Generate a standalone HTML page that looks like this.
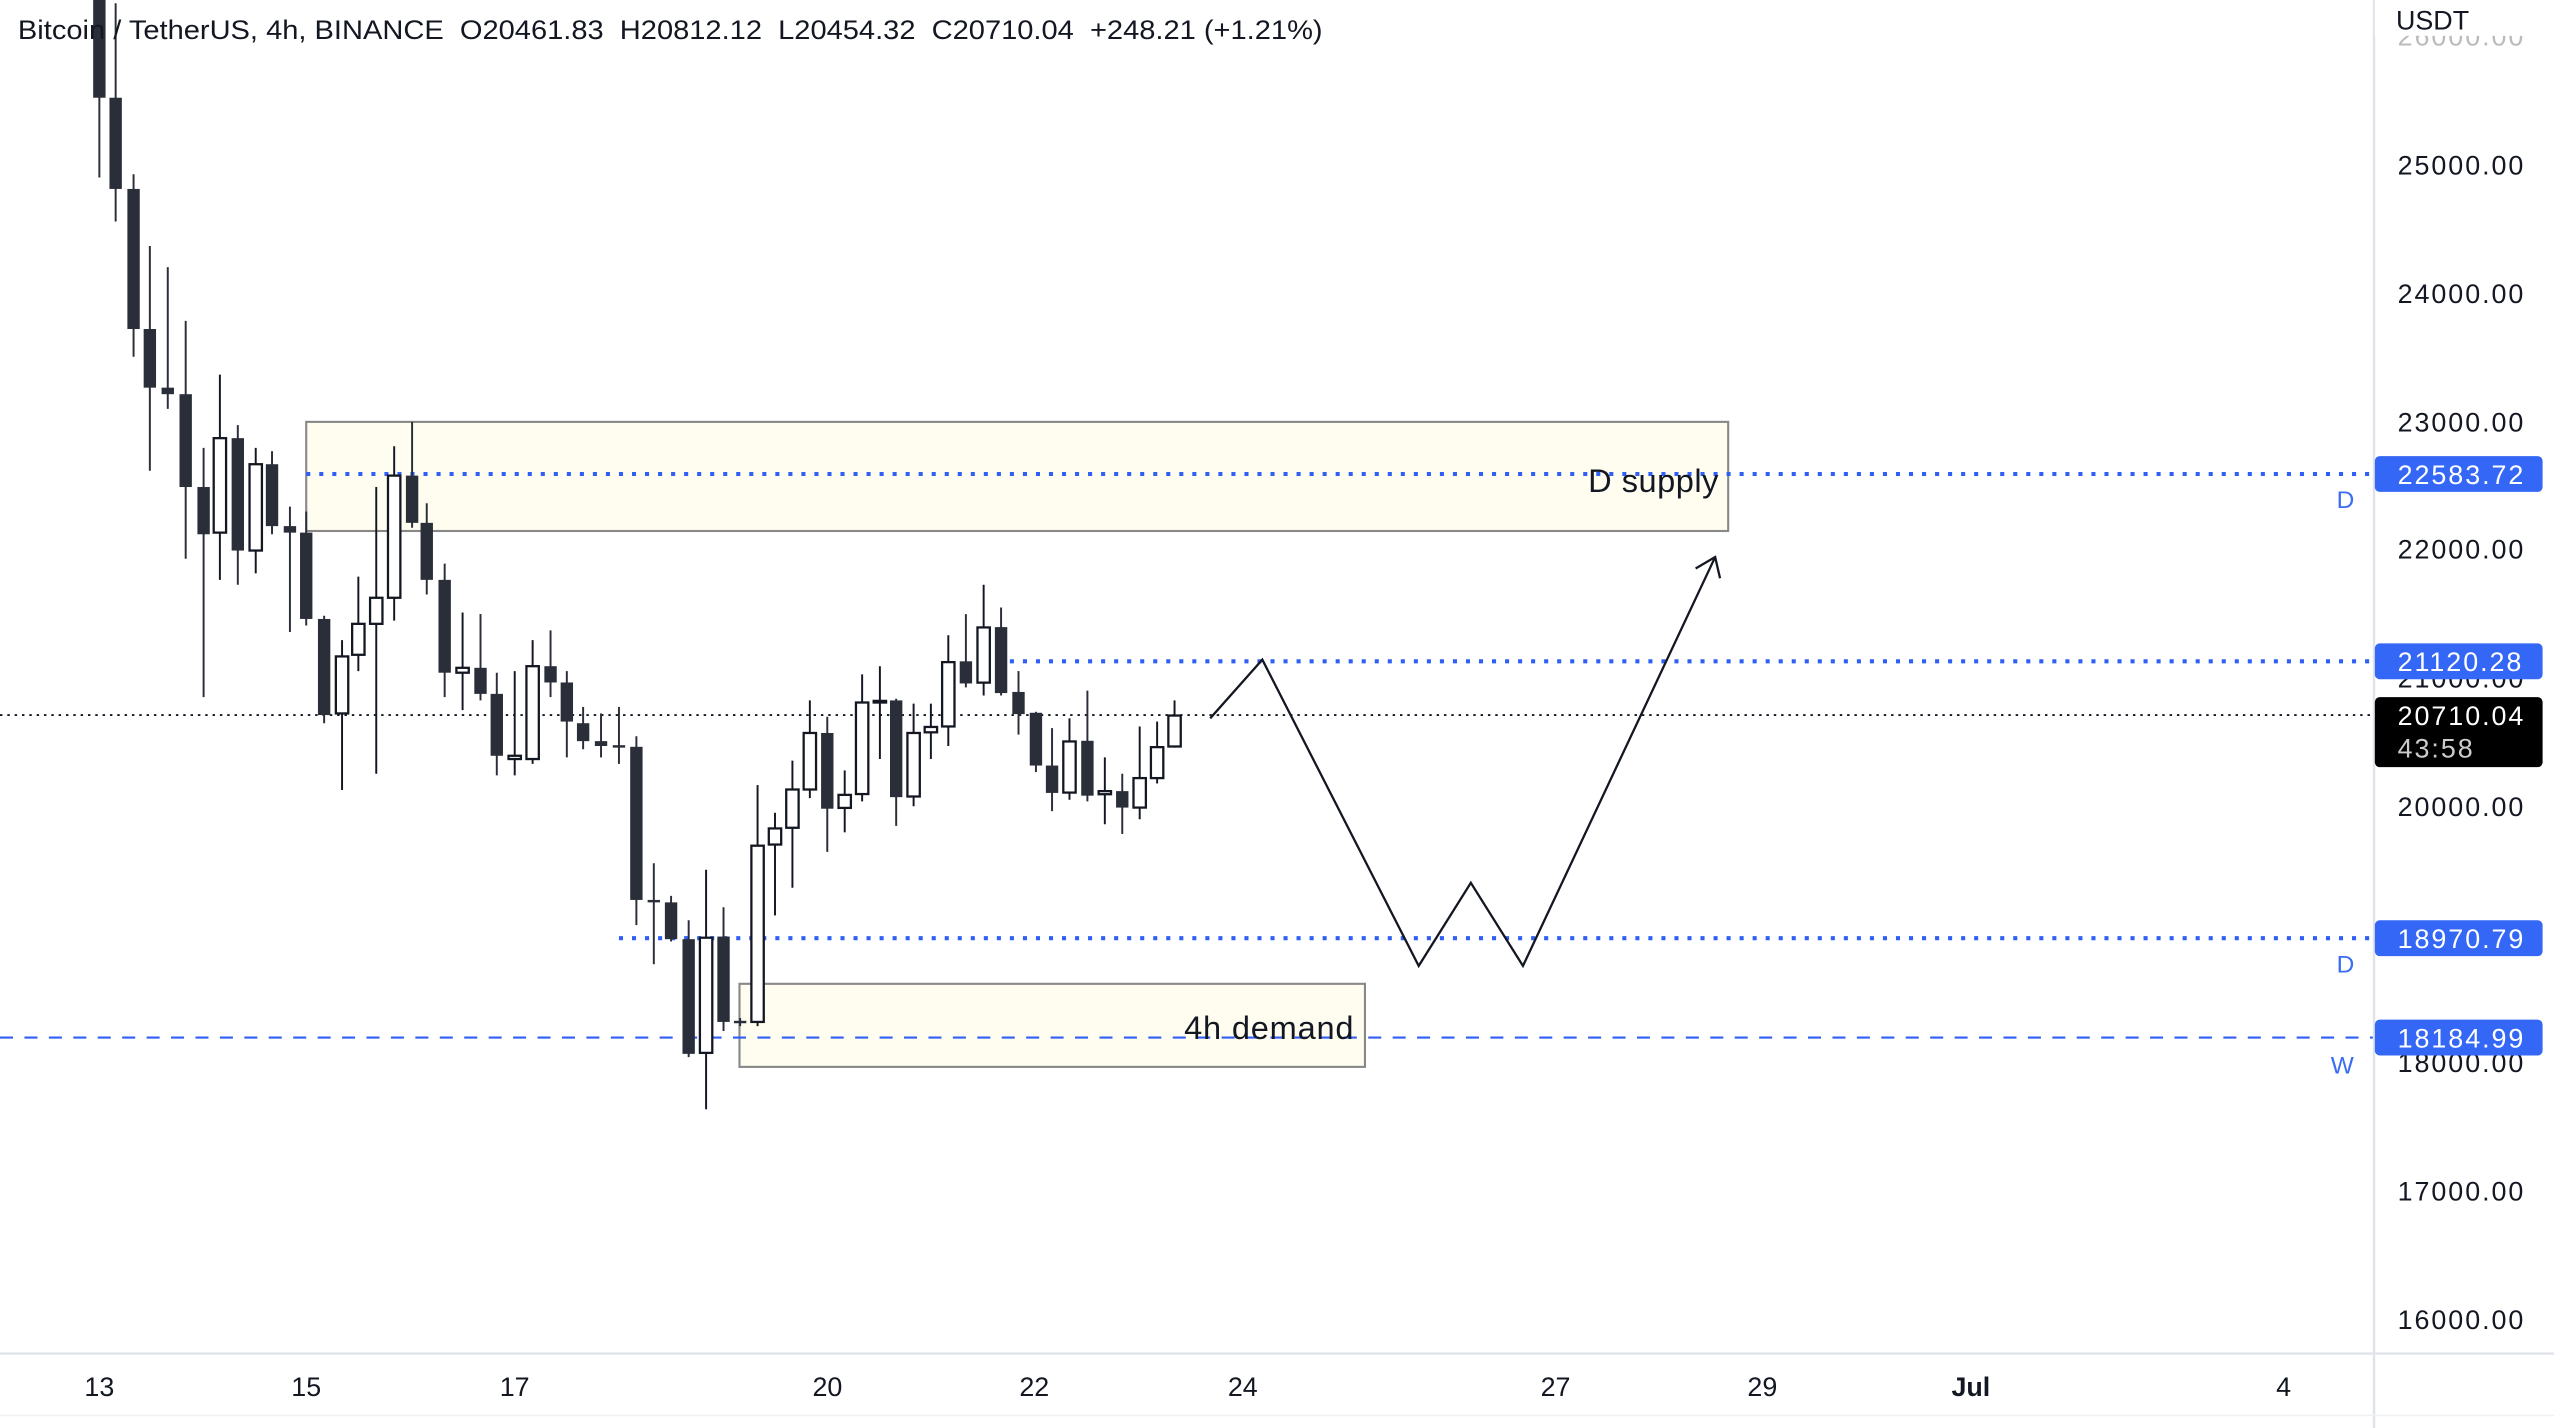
<!DOCTYPE html>
<html><head><meta charset="utf-8"><style>
html,body{margin:0;padding:0;background:#fff;}
svg{display:block;}
text{font-family:"Liberation Sans",sans-serif;}
.d line{stroke:#2a2e39;stroke-width:1.2}
.d rect{fill:#2a2e39}
.w line{stroke:#131722;stroke-width:1.2}
.w rect{fill:#fff;stroke:#131722;stroke-width:1.4}
.pl{font-size:16.5px;fill:#131722;letter-spacing:1.2px}
</style></head><body>
<svg width="2554" height="1428" viewBox="0 0 1568 876.7" preserveAspectRatio="none" xmlns="http://www.w3.org/2000/svg">
<rect x="0" y="0" width="1568" height="877" fill="#fff"/>
<rect x="188" y="259" width="873" height="67" fill="#fffdf0" stroke="#888" stroke-width="1.3"/>
<rect x="454" y="604" width="384" height="51" fill="#fffdf0" stroke="#888" stroke-width="1.3"/>
<line x1="0" y1="439" x2="1457" y2="439" stroke="#131722" stroke-width="1.2" stroke-dasharray="1.5,3"/>
<line x1="188" y1="291" x2="1457" y2="291" stroke="#2f5ff5" stroke-width="2.5" stroke-dasharray="2.5,5.5"/>
<line x1="620" y1="406" x2="1457" y2="406" stroke="#2f5ff5" stroke-width="2.5" stroke-dasharray="2.5,5.5"/>
<line x1="380" y1="576" x2="1457" y2="576" stroke="#2f5ff5" stroke-width="2.5" stroke-dasharray="2.5,5.5"/>
<line x1="0" y1="637" x2="1457" y2="637" stroke="#2f5ff5" stroke-width="1.3" stroke-dasharray="8,7"/>
<g class="d"><line x1="61" y1="0" x2="61" y2="109"/><rect x="57.2" y="0" width="7.6" height="60"/></g>
<g class="d"><line x1="71" y1="2" x2="71" y2="136"/><rect x="67.2" y="60" width="7.6" height="56"/></g>
<g class="d"><line x1="82" y1="107" x2="82" y2="219"/><rect x="78.2" y="116" width="7.6" height="86"/></g>
<g class="d"><line x1="92" y1="151" x2="92" y2="289"/><rect x="88.2" y="202" width="7.6" height="36"/></g>
<g class="d"><line x1="103" y1="164" x2="103" y2="251"/><rect x="99.2" y="238" width="7.6" height="4"/></g>
<g class="d"><line x1="114" y1="197" x2="114" y2="343"/><rect x="110.2" y="242" width="7.6" height="57"/></g>
<g class="d"><line x1="125" y1="275" x2="125" y2="428"/><rect x="121.2" y="299" width="7.6" height="29"/></g>
<g class="w"><line x1="135" y1="230" x2="135" y2="356"/><rect x="131.2" y="269" width="7.6" height="58"/></g>
<g class="d"><line x1="146" y1="261" x2="146" y2="359"/><rect x="142.2" y="269" width="7.6" height="69"/></g>
<g class="w"><line x1="157" y1="275" x2="157" y2="352"/><rect x="153.2" y="285" width="7.6" height="53"/></g>
<g class="d"><line x1="167" y1="277" x2="167" y2="328"/><rect x="163.2" y="285" width="7.6" height="38"/></g>
<g class="d"><line x1="178" y1="311" x2="178" y2="388"/><rect x="174.2" y="323" width="7.6" height="4"/></g>
<g class="d"><line x1="188" y1="314" x2="188" y2="384"/><rect x="184.2" y="327" width="7.6" height="53"/></g>
<g class="d"><line x1="199" y1="378" x2="199" y2="444"/><rect x="195.2" y="380" width="7.6" height="59"/></g>
<g class="w"><line x1="210" y1="393" x2="210" y2="485"/><rect x="206.2" y="403" width="7.6" height="35"/></g>
<g class="w"><line x1="220" y1="354" x2="220" y2="412"/><rect x="216.2" y="383" width="7.6" height="19"/></g>
<g class="w"><line x1="231" y1="299" x2="231" y2="475"/><rect x="227.2" y="367" width="7.6" height="16"/></g>
<g class="w"><line x1="242" y1="274" x2="242" y2="381"/><rect x="238.2" y="292" width="7.6" height="75"/></g>
<g class="d"><line x1="253" y1="259" x2="253" y2="324"/><rect x="249.2" y="292" width="7.6" height="29"/></g>
<g class="d"><line x1="262" y1="309" x2="262" y2="365"/><rect x="258.2" y="321" width="7.6" height="35"/></g>
<g class="d"><line x1="273" y1="346" x2="273" y2="428"/><rect x="269.2" y="356" width="7.6" height="57"/></g>
<g class="w"><line x1="284" y1="376" x2="284" y2="436"/><rect x="280.2" y="410" width="7.6" height="3"/></g>
<g class="d"><line x1="295" y1="377" x2="295" y2="430"/><rect x="291.2" y="410" width="7.6" height="16"/></g>
<g class="d"><line x1="305" y1="413" x2="305" y2="476"/><rect x="301.2" y="426" width="7.6" height="38"/></g>
<g class="w"><line x1="316" y1="412" x2="316" y2="476"/><rect x="312.2" y="464" width="7.6" height="2"/></g>
<g class="w"><line x1="327" y1="393" x2="327" y2="469"/><rect x="323.2" y="409" width="7.6" height="57"/></g>
<g class="d"><line x1="338" y1="387" x2="338" y2="428"/><rect x="334.2" y="409" width="7.6" height="10"/></g>
<g class="d"><line x1="348" y1="412" x2="348" y2="465"/><rect x="344.2" y="419" width="7.6" height="24"/></g>
<g class="d"><line x1="358" y1="434" x2="358" y2="460"/><rect x="354.2" y="444" width="7.6" height="11"/></g>
<g class="d"><line x1="369" y1="438" x2="369" y2="465"/><rect x="365.2" y="455" width="7.6" height="3"/></g>
<g class="d"><line x1="380" y1="434" x2="380" y2="469"/><rect x="376.2" y="457.5" width="7.6" height="1.5"/></g>
<g class="d"><line x1="390.7" y1="452" x2="390.7" y2="568"/><rect x="386.9" y="458.5" width="7.6" height="94"/></g>
<g class="d"><line x1="401.4" y1="530" x2="401.4" y2="592"/><rect x="397.6" y="552.5" width="7.6" height="1.5"/></g>
<g class="d"><line x1="412" y1="550" x2="412" y2="578"/><rect x="408.2" y="554" width="7.6" height="22.6"/></g>
<g class="d"><line x1="422.8" y1="565" x2="422.8" y2="649"/><rect x="419" y="576.6" width="7.6" height="70.4"/></g>
<g class="w"><line x1="433.5" y1="534" x2="433.5" y2="681"/><rect x="429.7" y="575.7" width="7.6" height="70.7"/></g>
<g class="d"><line x1="444.2" y1="557" x2="444.2" y2="633"/><rect x="440.4" y="575" width="7.6" height="52.4"/></g>
<g class="d"><line x1="454.4" y1="625" x2="454.4" y2="630"/><rect x="450.6" y="626.7" width="7.6" height="1.5"/></g>
<g class="w"><line x1="465.1" y1="482" x2="465.1" y2="630"/><rect x="461.3" y="519.2" width="7.6" height="108.2"/></g>
<g class="w"><line x1="475.8" y1="499" x2="475.8" y2="562"/><rect x="472" y="508.6" width="7.6" height="9.9"/></g>
<g class="w"><line x1="486.5" y1="467" x2="486.5" y2="545"/><rect x="482.7" y="484.7" width="7.6" height="23.5"/></g>
<g class="w"><line x1="497.2" y1="430" x2="497.2" y2="490"/><rect x="493.4" y="450" width="7.6" height="34.7"/></g>
<g class="d"><line x1="507.9" y1="440" x2="507.9" y2="523"/><rect x="504.1" y="450" width="7.6" height="46.5"/></g>
<g class="w"><line x1="518.6" y1="473" x2="518.6" y2="511"/><rect x="514.8" y="488" width="7.6" height="8"/></g>
<g class="w"><line x1="529.3" y1="414" x2="529.3" y2="492"/><rect x="525.5" y="431.3" width="7.6" height="56.2"/></g>
<g class="w"><line x1="540.2" y1="409" x2="540.2" y2="466"/><rect x="536.4" y="430.3" width="7.6" height="1"/></g>
<g class="d"><line x1="550.2" y1="429" x2="550.2" y2="507"/><rect x="546.4" y="430" width="7.6" height="59.4"/></g>
<g class="w"><line x1="560.9" y1="432" x2="560.9" y2="495"/><rect x="557.1" y="450" width="7.6" height="39"/></g>
<g class="w"><line x1="571.5" y1="432" x2="571.5" y2="466"/><rect x="567.7" y="446.3" width="7.6" height="3.3"/></g>
<g class="w"><line x1="582.2" y1="390" x2="582.2" y2="458"/><rect x="578.4" y="406.5" width="7.6" height="39.5"/></g>
<g class="d"><line x1="593" y1="377" x2="593" y2="422"/><rect x="589.2" y="406" width="7.6" height="13.6"/></g>
<g class="w"><line x1="603.9" y1="359" x2="603.9" y2="427"/><rect x="600.1" y="385.2" width="7.6" height="33.9"/></g>
<g class="d"><line x1="614.6" y1="373" x2="614.6" y2="427"/><rect x="610.8" y="385" width="7.6" height="40.5"/></g>
<g class="d"><line x1="625.3" y1="412" x2="625.3" y2="451"/><rect x="621.5" y="424.8" width="7.6" height="13.6"/></g>
<g class="d"><line x1="636" y1="437" x2="636" y2="474"/><rect x="632.2" y="437.6" width="7.6" height="32.4"/></g>
<g class="d"><line x1="645.9" y1="447" x2="645.9" y2="498"/><rect x="642.1" y="470" width="7.6" height="16.8"/></g>
<g class="w"><line x1="656.6" y1="441" x2="656.6" y2="491"/><rect x="652.8" y="455.2" width="7.6" height="31.4"/></g>
<g class="d"><line x1="667.6" y1="424" x2="667.6" y2="492"/><rect x="663.8" y="454.8" width="7.6" height="33.7"/></g>
<g class="w"><line x1="678.3" y1="465" x2="678.3" y2="506"/><rect x="674.5" y="485.7" width="7.6" height="1.9"/></g>
<g class="d"><line x1="689" y1="475" x2="689" y2="512"/><rect x="685.2" y="485.7" width="7.6" height="10.1"/></g>
<g class="w"><line x1="699.7" y1="446" x2="699.7" y2="503"/><rect x="695.9" y="477.7" width="7.6" height="18.1"/></g>
<g class="w"><line x1="710.4" y1="443" x2="710.4" y2="481"/><rect x="706.6" y="458.7" width="7.6" height="19"/></g>
<g class="w"><line x1="721.1" y1="430" x2="721.1" y2="459"/><rect x="717.3" y="439.3" width="7.6" height="19"/></g>
<polyline points="743,441 775,405 871,593 903,542 935,593 1053,342" fill="none" stroke="#131722" stroke-width="1.4"/>
<polyline points="1041,349 1053,342 1056,355" fill="none" stroke="#131722" stroke-width="1.4"/>
<text x="1055" y="302" font-size="20" fill="#131722" text-anchor="end" textLength="80">D supply</text>
<text x="831" y="638" font-size="20" fill="#131722" text-anchor="end" textLength="104">4h demand</text>
<text x="1440" y="312" font-size="15" fill="#3a6cf4" text-anchor="middle">D</text>
<text x="1440" y="597" font-size="15" fill="#3a6cf4" text-anchor="middle">D</text>
<text x="1438" y="659" font-size="15" fill="#3a6cf4" text-anchor="middle">W</text>
<text x="11" y="24" font-size="16.5" fill="#131722" xml:space="preserve" textLength="801" lengthAdjust="spacingAndGlyphs">Bitcoin / TetherUS, 4h, BINANCE  O20461.83  H20812.12  L20454.32  C20710.04  +248.21 (+1.21%)</text>
<rect x="1458" y="0" width="110" height="877" fill="#fff"/>
<line x1="1457.5" y1="0" x2="1457.5" y2="877" stroke="#e0e3eb" stroke-width="1.5"/>
<line x1="0" y1="831" x2="1568" y2="831" stroke="#e0e3eb" stroke-width="1.5"/>
<line x1="0" y1="869" x2="1568" y2="869" stroke="#eef0f4" stroke-width="1"/>
<text class="pl" x="1472" y="28" style="fill:#bbb">26000.00</text>
<rect x="1458" y="0" width="110" height="22" fill="#fff"/>
<text x="1471" y="18" font-size="16.5" fill="#131722">USDT</text>
<text class="pl" x="1472" y="107">25000.00</text>
<text class="pl" x="1472" y="186">24000.00</text>
<text class="pl" x="1472" y="265">23000.00</text>
<text class="pl" x="1472" y="343">22000.00</text>
<text class="pl" x="1472" y="422">21000.00</text>
<text class="pl" x="1472" y="501">20000.00</text>
<text class="pl" x="1472" y="658">18000.00</text>
<text class="pl" x="1472" y="737">17000.00</text>
<text class="pl" x="1472" y="816">16000.00</text>
<rect x="1458" y="280" width="103" height="22" rx="3" fill="#3467f6"/>
<text class="pl" x="1472" y="297" style="fill:#fff">22583.72</text>
<rect x="1458" y="395" width="103" height="22" rx="3" fill="#3467f6"/>
<text class="pl" x="1472" y="412" style="fill:#fff">21120.28</text>
<rect x="1458" y="428" width="103" height="43" rx="3" fill="#000"/>
<text class="pl" x="1472" y="445" style="fill:#fff">20710.04</text>
<text class="pl" x="1472" y="465" style="fill:#ccc">43:58</text>
<rect x="1458" y="565" width="103" height="22" rx="3" fill="#3467f6"/>
<text class="pl" x="1472" y="582" style="fill:#fff">18970.79</text>
<rect x="1458" y="626" width="103" height="22" rx="3" fill="#3467f6"/>
<text class="pl" x="1472" y="643" style="fill:#fff">18184.99</text>
<g font-size="16.5" fill="#131722" text-anchor="middle">
<text x="61" y="857">13</text><text x="188" y="857">15</text><text x="316" y="857">17</text>
<text x="508" y="857">20</text><text x="635" y="857">22</text><text x="763" y="857">24</text>
<text x="955" y="857">27</text><text x="1082" y="857">29</text>
<text x="1210" y="857" font-weight="bold">Jul</text><text x="1402" y="857">4</text>
</g>
</svg>
</body></html>
